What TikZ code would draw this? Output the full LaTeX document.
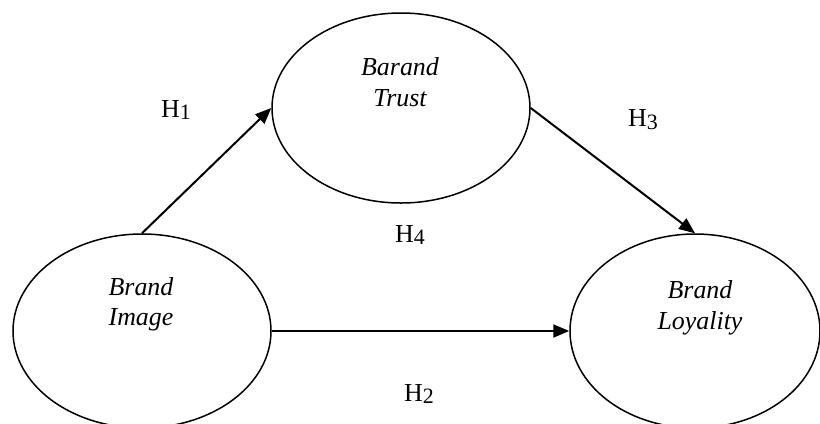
\documentclass[tikz,border=0pt]{standalone}
\usepackage{fontspec}
\setmainfont{Liberation Serif}
\usetikzlibrary{shapes.geometric,arrows.meta}
\newcommand{\hsub}[1]{\raisebox{-2.8bp}{\fontsize{22}{22}\selectfont #1}}
\begin{document}
\begin{tikzpicture}[x=1bp,y=-1bp,
  construct/.style={draw,line width=1.5bp,ellipse,inner sep=0pt},
  lbl/.style={font=\fontsize{26}{30}\selectfont\itshape,align=center,inner sep=0pt,anchor=base},
  hyp/.style={font=\fontsize{26}{30}\selectfont,inner sep=0pt},
  link/.style={line width=2bp,-{Triangle[length=16bp,width=13bp]}}]
\useasboundingbox (0,0) rectangle (820,423);
\node[construct,minimum width=258bp,minimum height=194bp] (img) at (142,331) {};
\node[construct,minimum width=258bp,minimum height=190bp] (trust) at (401,108) {};
\node[construct,minimum width=250bp,minimum height=194bp] (loy) at (695,331) {};
\node[lbl] (t1a) at (141,295) {Brand};
\node[lbl] (t1b) at (141,325) {Image};
\node[lbl] (t2a) at (400,75) {Barand};
\node[lbl] (t2b) at (400,106) {Trust};
\node[lbl] (t3a) at (700,298) {Brand};
\node[lbl] (t3b) at (700,329) {Loyality};
\draw[link] (img.north) -- (trust.west);
\draw[link] (trust.east) -- (loy.north);
\draw[link] (img.east) -- (loy.west);
\node[hyp] (h1) at (176,110) {H\hsub{1}};
\node[hyp] (h3) at (643,120) {H\hsub{3}};
\node[hyp] (h4) at (410,235) {H\hsub{4}};
\node[hyp] (h2) at (419,394) {H\hsub{2}};
\end{tikzpicture}
\end{document}
